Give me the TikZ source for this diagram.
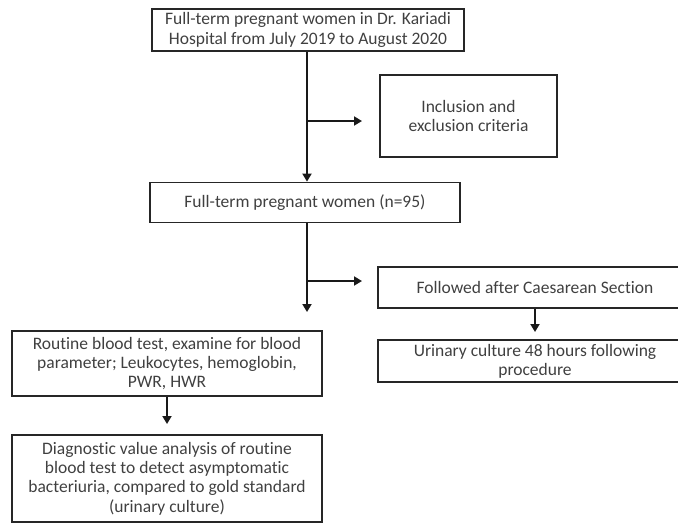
\documentclass[tikz,border=0pt]{standalone}
\usepackage{fontspec}
\setmainfont{Carlito}[Ligatures=NoCommon]
\usetikzlibrary{arrows.meta}
\begin{document}
\begin{tikzpicture}[x=1pt,y=-1pt,
  box/.style={draw=black!85,line width=1.8pt,align=center,inner sep=1pt,
    font=\fontsize{17.5}{19.3}\selectfont,text=black!75},
  conn/.style={draw=black!90,line width=1.8pt,-{Triangle[length=8pt,width=9pt]}}]
\useasboundingbox (0,0) rectangle (678,523);
\node[box,minimum width=312pt,minimum height=42pt] (top) at (308,30)
  {Full-term pregnant women in Dr. Kariadi\\Hospital from July 2019 to August 2020};
\node[box,minimum width=177pt,minimum height=82pt] (incl) at (468.5,116)
  {Inclusion and\\exclusion criteria};
\node[box,minimum width=310pt,minimum height=40pt] (ft) at (305,202.5)
  {Full-term pregnant women (n=95)};
\node[box,minimum width=314pt,minimum height=41pt] (cs) at (535,287.5)
  {Followed after Caesarean Section};
\node[box,minimum width=314pt,minimum height=42pt] (uc) at (535,361)
  {Urinary culture 48 hours following\\procedure};
\node[box,minimum width=310pt,minimum height=65pt] (rb) at (167,363.5)
  {Routine blood test, examine for blood\\parameter; Leukocytes, hemoglobin,\\PWR, HWR};
\node[box,minimum width=310pt,minimum height=87pt] (dv) at (167,478.5)
  {Diagnostic value analysis of routine\\blood test to detect asymptomatic\\bacteriuria, compared to gold standard\\(urinary culture)};
% connectors
\coordinate (b1) at (307,121);
\coordinate (e1) at (362,121);
\coordinate (t2) at (307,312);
\coordinate (b2) at (307,281);
\coordinate (e2) at (362,281);
\coordinate (e3) at (535,332);
\coordinate (e4) at (167,424);
\draw[conn] (top.south -| b1) -- (ft.north -| b1);
\draw[conn] (b1) -- (e1);
\draw[conn] (ft.south -| t2) -- (t2);
\draw[conn] (b2) -- (e2);
\draw[conn] (cs.south -| e3) -- (e3);
\draw[conn] (rb.south) -- (e4);
\end{tikzpicture}
\end{document}
